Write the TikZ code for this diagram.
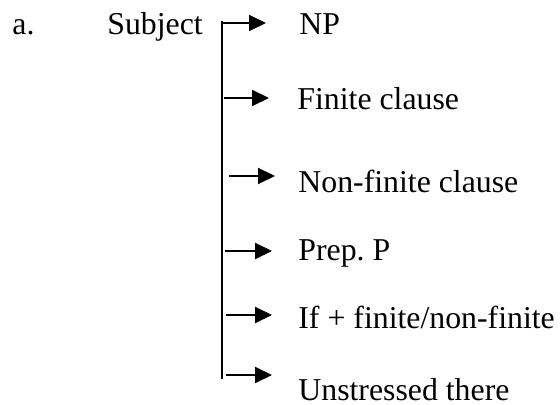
\documentclass[tikz,border=0pt]{standalone}
\usepackage{fontspec}
\setmainfont{Liberation Serif}
\usepackage{tikz}
\usetikzlibrary{arrows.meta,positioning}
\frenchspacing
\tikzset{
  lbl/.style={anchor=base west, inner sep=0pt, font=\fontsize{15.9}{19}\selectfont},
  barr/.style={-{Triangle[length=8.5pt,width=8pt]}, line width=1pt},
  spine/.style={line width=1.1pt}
}

\begin{document}
\begin{tikzpicture}[x=0.5pt,y=-0.5pt]
\useasboundingbox (0,0) rectangle (560,405);
\node[lbl] (a) at (12,35) {a.};
\node[lbl] (subj) at (107,35) {Subject};
\coordinate (top) at (222,21); \coordinate (bot) at (222,379);
\draw[spine] (top)--(bot);
\foreach \i/\xs/\xe/\y in {1/222/266/23, 2/224/269/98, 3/229/275/176, 4/225/272/251, 5/226/272/315, 6/226/272/375}{
  \coordinate (s\i) at (\xs,\y); \coordinate (e\i) at (\xe,\y);
  \draw[barr] (s\i)--(e\i);
}
\node[lbl] (np) at (299,35) {NP};
\node[lbl] (fin) at (297,110) {Finite clause};
\node[lbl] (nonfin) at (298,192) {Non-finite clause};
\node[lbl] (prep) at (298,260) {Prep. P};
\node[lbl] (iff) at (298,328) {If + finite/non-finite};
\node[lbl] (unstr) at (298,400) {Unstressed there};
\end{tikzpicture}
\end{document}
